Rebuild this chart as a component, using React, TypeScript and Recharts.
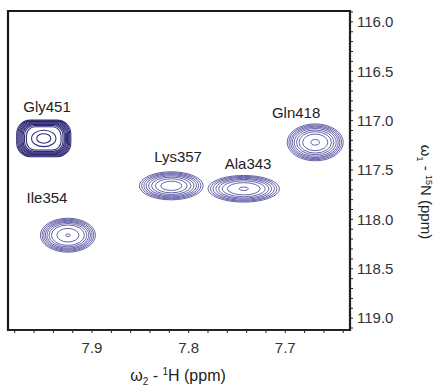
import React from 'react';
import {
  ScatterChart, Scatter, XAxis, YAxis, ReferenceArea, Label,
} from 'recharts';

// Axis domains (ppm)
const X_MIN = 7.633;
const X_MAX = 7.987;
const Y_MIN = 115.89;
const Y_MAX = 119.12;

// Tick positions
const X_TICKS = [7.64, 7.66, 7.68, 7.7, 7.72, 7.74, 7.76, 7.78, 7.8, 7.82, 7.84, 7.86, 7.88, 7.9, 7.92, 7.94, 7.96, 7.98];
const X_LABELED = [7.7, 7.8, 7.9];
const Y_TICKS = [115.9, 116.0, 116.1, 116.2, 116.3, 116.4, 116.5, 116.6, 116.7, 116.8, 116.9, 117.0, 117.1, 117.2, 117.3, 117.4, 117.5, 117.6, 117.7, 117.8, 117.9, 118.0, 118.1, 118.2, 118.3, 118.4, 118.5, 118.6, 118.7, 118.8, 118.9, 119.0, 119.1];
const Y_LABELED = [116.0, 116.5, 117.0, 117.5, 118.0, 118.5, 119.0];

// Peaks
const peakNames = ['Gly451', 'Ile354', 'Lys357', 'Ala343', 'Gln418'];
const peakH = [7.950, 7.925, 7.818, 7.743, 7.669];
const peakN = [117.18, 118.16, 117.66, 117.69, 117.22];
const peakHalfH = [0.028, 0.0285, 0.033, 0.037, 0.029];
const peakHalfN = [0.185, 0.172, 0.142, 0.135, 0.187];
const peakContours = [
  [1, 0.96, 0.92, 0.88, 0.84, 0.8, 0.76, 0.71, 0.64, 0.45, 0.26],
  [1, 0.94, 0.88, 0.82, 0.76, 0.69, 0.6, 0.4, 0.08],
  [1, 0.93, 0.86, 0.79, 0.71, 0.62, 0.5, 0.33],
  [1, 0.93, 0.86, 0.78, 0.7, 0.6, 0.46, 0.13],
  [1, 0.94, 0.88, 0.82, 0.75, 0.67, 0.58, 0.45, 0.15],
];
const peakSquare = [true, false, false, false, false];
const labelH = [7.9466, 7.9466, 7.811, 7.7385, 7.6888];
const labelN = [116.862, 117.783, 117.368, 117.43, 116.913];

const peakData = peakNames.map((name, i) => ({
  name, x: peakH[i], y: peakN[i], hw: peakHalfH[i], hh: peakHalfN[i],
  levels: peakContours[i], square: peakSquare[i],
}));
const labelData = peakNames.map((name, i) => ({ name, x: labelH[i], y: labelN[i] }));

// Layout
const W = 437;
const H = 388;
const MARGIN = { top: 11, right: 37, bottom: 18, left: 8 };
const Y_AXIS_W = 50;
const X_AXIS_H = 40;
const PLOT_W = W - MARGIN.left - MARGIN.right - Y_AXIS_W;
const PLOT_H = H - MARGIN.top - MARGIN.bottom - X_AXIS_H;
const PX_PER_X = PLOT_W / (X_MAX - X_MIN);
const PX_PER_Y = PLOT_H / (Y_MAX - Y_MIN);

const FONT = '"Liberation Sans", Arial, sans-serif';

const ContourShape = (props: any) => {
  const { cx, cy, payload } = props;
  if (cx == null || cy == null || !payload) return null;
  const rx0 = payload.hw * PX_PER_X;
  const ry0 = payload.hh * PX_PER_Y;
  const stroke = payload.square ? '#25206f' : '#433e94';
  const sw = payload.square ? 1.05 : 0.95;
  const op = payload.square ? 0.95 : 0.85;
  return (
    <g>
      {payload.levels.map((f: number, k: number) => {
        const rx = rx0 * f;
        const ry = ry0 * f;
        if (payload.square && f >= 0.6) {
          const r = Math.min(rx, ry) * 0.75;
          return (
            <rect key={k} x={cx - rx} y={cy - ry} width={2 * rx} height={2 * ry}
              rx={r} ry={r} fill="none" stroke={stroke} strokeWidth={sw} strokeOpacity={op} />
          );
        }
        return (
          <ellipse key={k} cx={cx} cy={cy} rx={rx} ry={ry}
            fill="none" stroke={stroke} strokeWidth={sw} strokeOpacity={op} />
        );
      })}
    </g>
  );
};

const LabelShape = (props: any) => {
  const { cx, cy, payload } = props;
  if (cx == null || cy == null || !payload) return null;
  return (
    <text x={cx} y={cy} textAnchor="middle" dominantBaseline="central"
      fontFamily={FONT} fontSize={15} fill="#222">{payload.name}</text>
  );
};

const XTitle = (props: any) => {
  const vb = props.viewBox || {};
  const x = vb.x + vb.width / 2 - 1;
  const y = vb.y + 51;
  return (
    <text x={x} y={y} textAnchor="middle" fontFamily={FONT} fontSize={16} fill="#222">
      <tspan>ω</tspan>
      <tspan fontSize={10} dy={4}>2</tspan>
      <tspan dy={-4}> - </tspan>
      <tspan fontSize={10} dy={-6}>1</tspan>
      <tspan dy={6}>H (ppm)</tspan>
    </text>
  );
};

const YTitle = (props: any) => {
  const vb = props.viewBox || {};
  const x = vb.x + vb.width + 21;
  const y = 192;
  return (
    <text x={x} y={y} textAnchor="middle" fontFamily={FONT} fontSize={15} fill="#222"
      transform={`rotate(90, ${x}, ${y})`}>
      <tspan>ω</tspan>
      <tspan fontSize={9} dy={4}>1</tspan>
      <tspan dy={-4}> - </tspan>
      <tspan fontSize={9} dy={-5}>15</tspan>
      <tspan dy={5}>N (ppm)</tspan>
    </text>
  );
};

const fmtX = (v: number) => (X_LABELED.some((t) => Math.abs(t - v) < 1e-6) ? v.toFixed(1) : '');
const fmtY = (v: number) => (Y_LABELED.some((t) => Math.abs(t - v) < 1e-6) ? v.toFixed(1) : '');

export default function App() {
  return (
    <div style={{ position: 'absolute', left: 0, top: 0, background: '#fff' }}>
      <ScatterChart width={W} height={H} margin={MARGIN}>
        <XAxis
          type="number" dataKey="x" domain={[X_MIN, X_MAX]} reversed allowDataOverflow
          ticks={X_TICKS} interval={0} tickFormatter={fmtX} height={X_AXIS_H}
          tickSize={3} tickMargin={9}
          stroke="#222" strokeWidth={1.8}
          tick={{ fill: '#333', fontSize: 15, fontFamily: FONT }}
          tickLine={{ stroke: '#222', strokeWidth: 1 }}
        >
          <Label content={<XTitle />} />
        </XAxis>
        <YAxis
          type="number" dataKey="y" orientation="right" domain={[Y_MIN, Y_MAX]} reversed allowDataOverflow
          ticks={Y_TICKS} interval={0} tickFormatter={fmtY} width={Y_AXIS_W}
          tickSize={3} tickMargin={4}
          stroke="#222" strokeWidth={1.8}
          tick={{ fill: '#333', fontSize: 15, fontFamily: FONT, textAnchor: 'start' }}
          tickLine={{ stroke: '#222', strokeWidth: 1 }}
        >
          <Label content={<YTitle />} />
        </YAxis>
        <ReferenceArea x1={X_MIN} x2={X_MAX} y1={Y_MIN} y2={Y_MAX}
          fill="#fff" fillOpacity={0} stroke="#1a1a1a" strokeWidth={2.2} strokeOpacity={1} />
        <Scatter data={peakData} shape={<ContourShape />} isAnimationActive={false} legendType="none" />
        <Scatter data={labelData} shape={<LabelShape />} isAnimationActive={false} legendType="none" />
      </ScatterChart>
    </div>
  );
}
